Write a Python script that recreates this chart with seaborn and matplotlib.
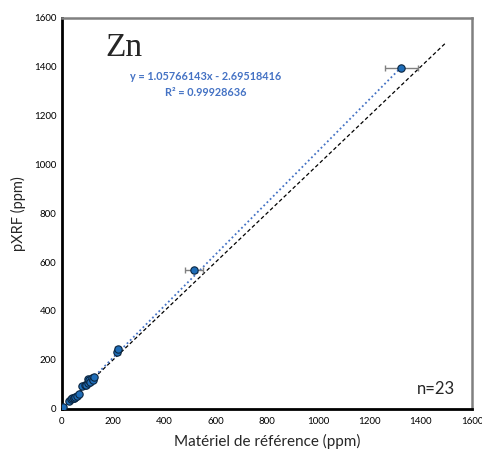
import matplotlib
matplotlib.use("Agg")
import matplotlib.pyplot as plt
import seaborn as sns
import numpy as np
import pandas as pd

ref_ppm = [5, 28, 35, 40, 45, 48, 52, 60, 68, 80, 88, 95, 100, 100, 105, 110, 118, 120, 125, 215, 218, 515, 1325]
pxrf_ppm = [5, 32, 38, 42, 45, 44, 48, 52, 58, 92, 95, 97, 105, 120, 118, 110, 125, 115, 128, 230, 242, 568, 1397]
ref_err = [2, 3, 3, 3, 3, 3, 3, 3, 3, 4, 4, 4, 4, 4, 4, 4, 5, 5, 5, 10, 10, 36, 65]

slope = 1.05766143
intercept = -2.69518416
identity_x = [0, 1500]

df = pd.DataFrame({"ref": ref_ppm, "pxrf": pxrf_ppm, "err": ref_err})

sns.set_style("white")
plt.rcParams['font.family'] = ['Lato', 'DejaVu Sans']

fig = plt.figure(figsize=(4.82, 4.54), dpi=100)
ax = fig.add_axes([0.1286, 0.1002, 0.8504, 0.8602])

# identity line
ax.plot(identity_x, identity_x, ls=(0, (3, 2)), color="black", lw=0.9, zorder=1)
# regression line
fx = np.array([min(ref_ppm), max(ref_ppm)])
ax.plot(fx, slope * fx + intercept, ls=(0, (1, 1.5)), color="#4472C4", lw=1.3, zorder=2)

ax.errorbar(df["ref"], df["pxrf"], xerr=df["err"], fmt="none", ecolor="#808080",
            elinewidth=1.0, capsize=2.5, capthick=1.0, zorder=3)
sns.scatterplot(data=df, x="ref", y="pxrf", ax=ax, s=28, color="#1F6DB8",
                edgecolor="#0A2540", linewidth=0.8, zorder=4, legend=False)

ax.set_xlim(0, 1600)
ax.set_ylim(0, 1600)
ax.set_xticks(np.arange(0, 1601, 200))
ax.set_yticks(np.arange(0, 1601, 200))
ax.tick_params(axis="both", direction="in", length=3, width=1, labelsize=7, pad=4, colors="black")
ax.tick_params(axis="x", pad=6)

for side in ["left", "bottom"]:
    ax.spines[side].set_color("black")
    ax.spines[side].set_linewidth(2)
for side in ["top", "right"]:
    ax.spines[side].set_color("#808080")
    ax.spines[side].set_linewidth(1.8)

ax.set_xlabel("Matériel de référence (ppm)", fontsize=11, labelpad=6)
ax.set_ylabel("pXRF (ppm)", fontsize=10.5, labelpad=6)

ax.text(0.105, 0.925, "Zn", transform=ax.transAxes, fontsize=24,
        family=["Liberation Serif", "DejaVu Serif"], ha="left", va="center")
ax.text(0.35, 0.83, "y = 1.05766143x - 2.69518416\nR² = 0.99928636", transform=ax.transAxes,
        fontsize=7.8, color="#4472C4", fontweight="bold", ha="center", va="center", linespacing=1.5)
ax.text(0.96, 0.03, "n=23", transform=ax.transAxes, fontsize=12, ha="right", va="bottom")

fig.savefig("out.png", dpi=100)
